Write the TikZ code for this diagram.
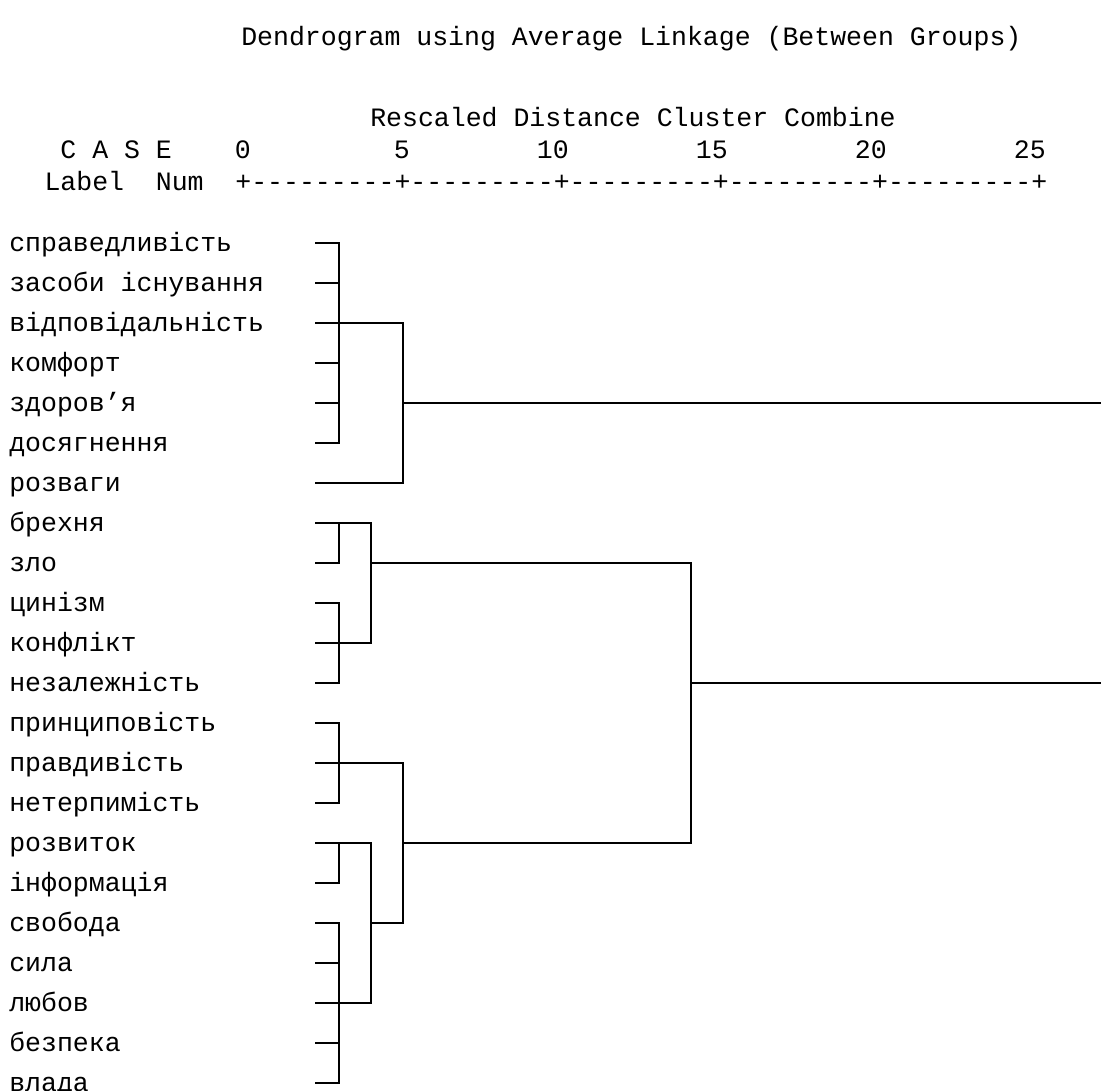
\documentclass[tikz,border=0pt]{standalone}
\usepackage{fontspec}
\setmonofont{Liberation Mono}

\tikzset{
    head/.style={anchor=base west, inner sep=0pt},
    leaf/.style={anchor=mid west, inner sep=0pt, yshift=-4.5pt},
    link/.style={line width=2pt},
}

\begin{document}
\begin{tikzpicture}[x=0.75pt, y=-0.75pt, font=\ttfamily\fontsize{19.9pt}{24pt}\selectfont]
    \useasboundingbox (0,0) rectangle (1101,1091);
    % header
    \node [head] (title) at (241,46) {Dendrogram using Average Linkage (Between Groups)};
    \node [head] (rescaled) at (370,127) {Rescaled Distance Cluster Combine};
    \node [head] (cas) at (60.2,159) {C A S E};
    \node [head] (lbl) at (44.3,191) {Label};
    \node [head] (num) at (155.6,191) {Num};
    \node [head] (axis) at (235.1,191) {+---------+---------+---------+---------+---------+};
    \foreach \v [count=\k from 0] in {0,5,10,15,20,25}
        \node [head, anchor=base east] (tick\v) at (251+159*\k,159) {\v};
    % cases
    \foreach \lab [count=\i] in {справедливість, засоби існування, відповідальність, комфорт,
        здоров’я, досягнення, розваги, брехня, зло, цинізм, конфлікт, незалежність,
        принциповість, правдивість, нетерпимість, розвиток, інформація, свобода, сила,
        любов, безпека, влада} {
        \node [leaf] (lab\i) at (9,203+40*\i) {\lab};
        \coordinate (t\i) at (315,203+40*\i);
    }
    % merge points
    \coordinate (a1) at (339,323);
    \coordinate (a2) at (403,403);
    \coordinate (b1) at (339,523);
    \coordinate (b2) at (339,643);
    \coordinate (b3) at (371,563);
    \coordinate (c1) at (339,763);
    \coordinate (c2) at (339,843);
    \coordinate (c3) at (339,1003);
    \coordinate (c4) at (371,923);
    \coordinate (c5) at (403,843);
    \coordinate (r) at (691,683);
    \coordinate (end1) at (1101,403);
    \coordinate (end2) at (1101,683);
    % first group
    \draw [link] (t1) -| (a1) |- (t6);
    \foreach \i in {2,4,5} \draw [link] (t\i) -- (t\i -| a1);
    \draw [link] (t3) -- (a1) -| (a2) |- (t7);
    \draw [link] (a2) -- (end1);
    % second group
    \draw [link] (t8) -- (b1);
    \draw [link] (t9) -| (b1);
    \draw [link] (t10) -| (b2) |- (t12);
    \draw [link] (t11) -- (b2);
    \draw [link] (b1) -| (b3) |- (b2);
    % third group
    \draw [link] (t13) -| (c1) |- (t15);
    \draw [link] (t14) -- (c1);
    \draw [link] (t16) -- (c2);
    \draw [link] (t17) -| (c2);
    \draw [link] (t18) -| (c3) |- (t22);
    \foreach \i in {19,21} \draw [link] (t\i) -- (t\i -| c3);
    \draw [link] (t20) -- (c3);
    \draw [link] (c2) -| (c4) |- (c3);
    \draw [link] (c1) -| (c5) |- (c4);
    % root
    \draw [link] (b3) -| (r) |- (c5);
    \draw [link] (r) -- (end2);
\end{tikzpicture}
\end{document}
